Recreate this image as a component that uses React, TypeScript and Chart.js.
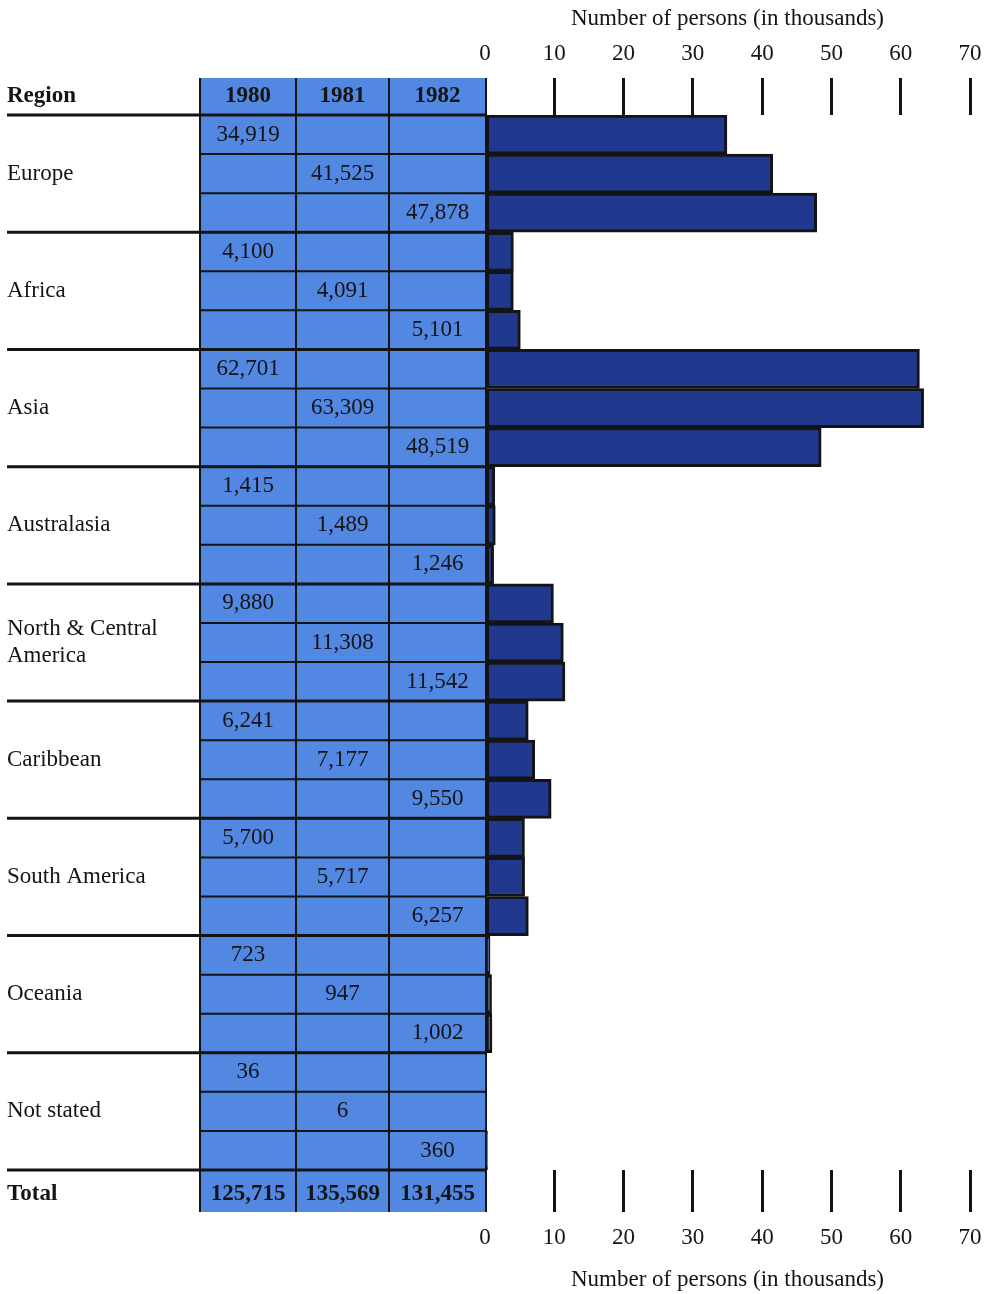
import { useEffect, useRef } from "react";
import { Chart, registerables, type ChartConfiguration, type Plugin } from "chart.js";

Chart.register(...registerables);

const REGIONS = [
  "Europe",
  "Africa",
  "Asia",
  "Australasia",
  "North & Central\nAmerica",
  "Caribbean",
  "South America",
  "Oceania",
  "Not stated",
];
const YEARS = ["1980", "1981", "1982"];
const PERSONS_1980 = [34919, 4100, 62701, 1415, 9880, 6241, 5700, 723, 36];
const PERSONS_1981 = [41525, 4091, 63309, 1489, 11308, 7177, 5717, 947, 6];
const PERSONS_1982 = [47878, 5101, 48519, 1246, 11542, 9550, 6257, 1002, 360];
const TOTALS = [125715, 135569, 131455];
const AXIS_MAX = 70;
const AXIS_STEP = 10;
const AXIS_TITLE = "Number of persons (in thousands)";

const SERIES = [PERSONS_1980, PERSONS_1981, PERSONS_1982];

// one bar per region/year, in thousands
const rowLabels: string[] = [];
const rowValues: number[] = [];
REGIONS.forEach((r, ri) => {
  YEARS.forEach((y, yi) => {
    rowLabels.push(`${r} ${y}`);
    rowValues.push(SERIES[yi][ri] / 1000);
  });
});

const SERIF = "'Liberation Serif', 'DejaVu Serif', serif";
const INK = "#141414";
const TABLE_BLUE = "#5288e2";
const BAR_BLUE = "#20398f";

// table geometry (left of the bars)
const COL_EDGES = [200, 296, 389, 486];
const LABEL_X = 7;
const HEADER_H = 37;
const TOTAL_H = 42;

const fmt = (n: number) => n.toLocaleString("en-US");

const tablePlugin: Plugin<"bar"> = {
  id: "regionTable",
  beforeDatasetsDraw(chart) {
    const { ctx, chartArea } = chart;
    const y = chart.scales.y;
    const top = chartArea.top;
    const bottom = chartArea.bottom;
    const rowH = (bottom - top) / rowLabels.length;
    const tTop = top - HEADER_H;
    const tBot = bottom + TOTAL_H;
    const left = COL_EDGES[0];
    const right = COL_EDGES[COL_EDGES.length - 1];

    ctx.save();
    ctx.fillStyle = TABLE_BLUE;
    ctx.fillRect(left, tTop, right - left, tBot - tTop);

    ctx.strokeStyle = INK;
    // row lines inside the table
    ctx.lineWidth = 2;
    for (let i = 1; i < rowLabels.length; i++) {
      const yy = top + i * rowH;
      ctx.beginPath();
      ctx.moveTo(left, yy);
      ctx.lineTo(right, yy);
      ctx.stroke();
    }
    // column lines
    COL_EDGES.forEach((x) => {
      ctx.beginPath();
      ctx.moveTo(x, tTop);
      ctx.lineTo(x, tBot);
      ctx.stroke();
    });
    // region separators
    ctx.lineWidth = 3;
    for (let r = 0; r <= REGIONS.length; r++) {
      const yy = top + r * YEARS.length * rowH;
      ctx.beginPath();
      ctx.moveTo(LABEL_X, yy);
      ctx.lineTo(right, yy);
      ctx.stroke();
    }

    ctx.fillStyle = INK;
    ctx.textBaseline = "middle";
    const colMid = (i: number) => (COL_EDGES[i] + COL_EDGES[i + 1]) / 2;

    // header
    ctx.font = `bold 23px ${SERIF}`;
    ctx.textAlign = "left";
    ctx.fillText("Region", LABEL_X, top - HEADER_H / 2);
    ctx.textAlign = "center";
    YEARS.forEach((yr, i) => ctx.fillText(yr, colMid(i), top - HEADER_H / 2));

    // totals
    ctx.textAlign = "left";
    ctx.fillText("Total", LABEL_X, bottom + TOTAL_H / 2 + 3);
    ctx.textAlign = "center";
    TOTALS.forEach((t, i) => ctx.fillText(fmt(t), colMid(i), bottom + TOTAL_H / 2 + 3));

    // region names + values
    ctx.font = `23px ${SERIF}`;
    REGIONS.forEach((name, ri) => {
      const mid = y.getPixelForValue(ri * YEARS.length + 1);
      const lines = name.split("\n");
      ctx.textAlign = "left";
      lines.forEach((ln, li) => {
        ctx.fillText(ln, LABEL_X, mid + (li - (lines.length - 1) / 2) * 27);
      });
      ctx.textAlign = "center";
      YEARS.forEach((_, yi) => {
        const py = y.getPixelForValue(ri * YEARS.length + yi);
        ctx.fillText(fmt(SERIES[yi][ri]), colMid(yi), py);
      });
    });
    ctx.restore();
  },
};

const axisGrid = {
  drawOnChartArea: false,
  drawTicks: true,
  color: (c: any) => (c.index === 0 ? "rgba(0,0,0,0)" : INK),
  lineWidth: 3,
};

// fixed axis band heights; drop the label overhang padding so the scale spans 0..70 exactly
const fitAxis = (h: number) => (s: any) => {
  s.height = h;
  s.paddingLeft = 0;
  s.paddingRight = 0;
};

export default function App() {
  const canvasRef = useRef<HTMLCanvasElement>(null);

  useEffect(() => {
    document.body.style.margin = "0";
    if (!canvasRef.current) return;

    const config: ChartConfiguration<"bar"> = {
      type: "bar",
      data: {
        labels: rowLabels,
        datasets: [
          {
            label: "Persons (thousands)",
            data: rowValues,
            backgroundColor: BAR_BLUE,
            borderColor: INK,
            borderWidth: 3,
            borderSkipped: false,
            barPercentage: 1,
            categoryPercentage: 1,
          },
        ],
      },
      options: {
        indexAxis: "y",
        responsive: false,
        animation: false,
        devicePixelRatio: 1,
        layout: { padding: { left: 485, right: 19, top: 0, bottom: 0 } },
        plugins: { legend: { display: false }, tooltip: { enabled: false } },
        scales: {
          y: { type: "category", display: false },
          x: {
            type: "linear",
            position: "top",
            min: 0,
            max: AXIS_MAX,
            afterFit: fitAxis(115),
            ticks: {
              stepSize: AXIS_STEP,
              color: INK,
              padding: 10,
              font: { family: SERIF, size: 23 },
            },
            grid: { ...axisGrid, tickLength: 37 },
            border: { display: false },
            title: {
              display: true,
              text: AXIS_TITLE,
              color: INK,
              padding: { top: 5, bottom: 0 },
              font: { family: SERIF, size: 23 },
            },
          },
          x2: {
            type: "linear",
            position: "bottom",
            axis: "x",
            min: 0,
            max: AXIS_MAX,
            afterFit: fitAxis(124),
            ticks: {
              stepSize: AXIS_STEP,
              color: INK,
              padding: 12,
              font: { family: SERIF, size: 23 },
            },
            grid: { ...axisGrid, tickLength: 42 },
            border: { display: false },
            title: {
              display: true,
              text: AXIS_TITLE,
              color: INK,
              padding: { top: 0, bottom: 0 },
              font: { family: SERIF, size: 23 },
            },
          },
        },
      },
      plugins: [tablePlugin],
    };

    const chart = new Chart(canvasRef.current, config);
    return () => chart.destroy();
  }, []);

  return (
    <div style={{ width: 989, height: 1294, background: "#fff" }}>
      <canvas ref={canvasRef} width={989} height={1294} style={{ display: "block" }} />
    </div>
  );
}
